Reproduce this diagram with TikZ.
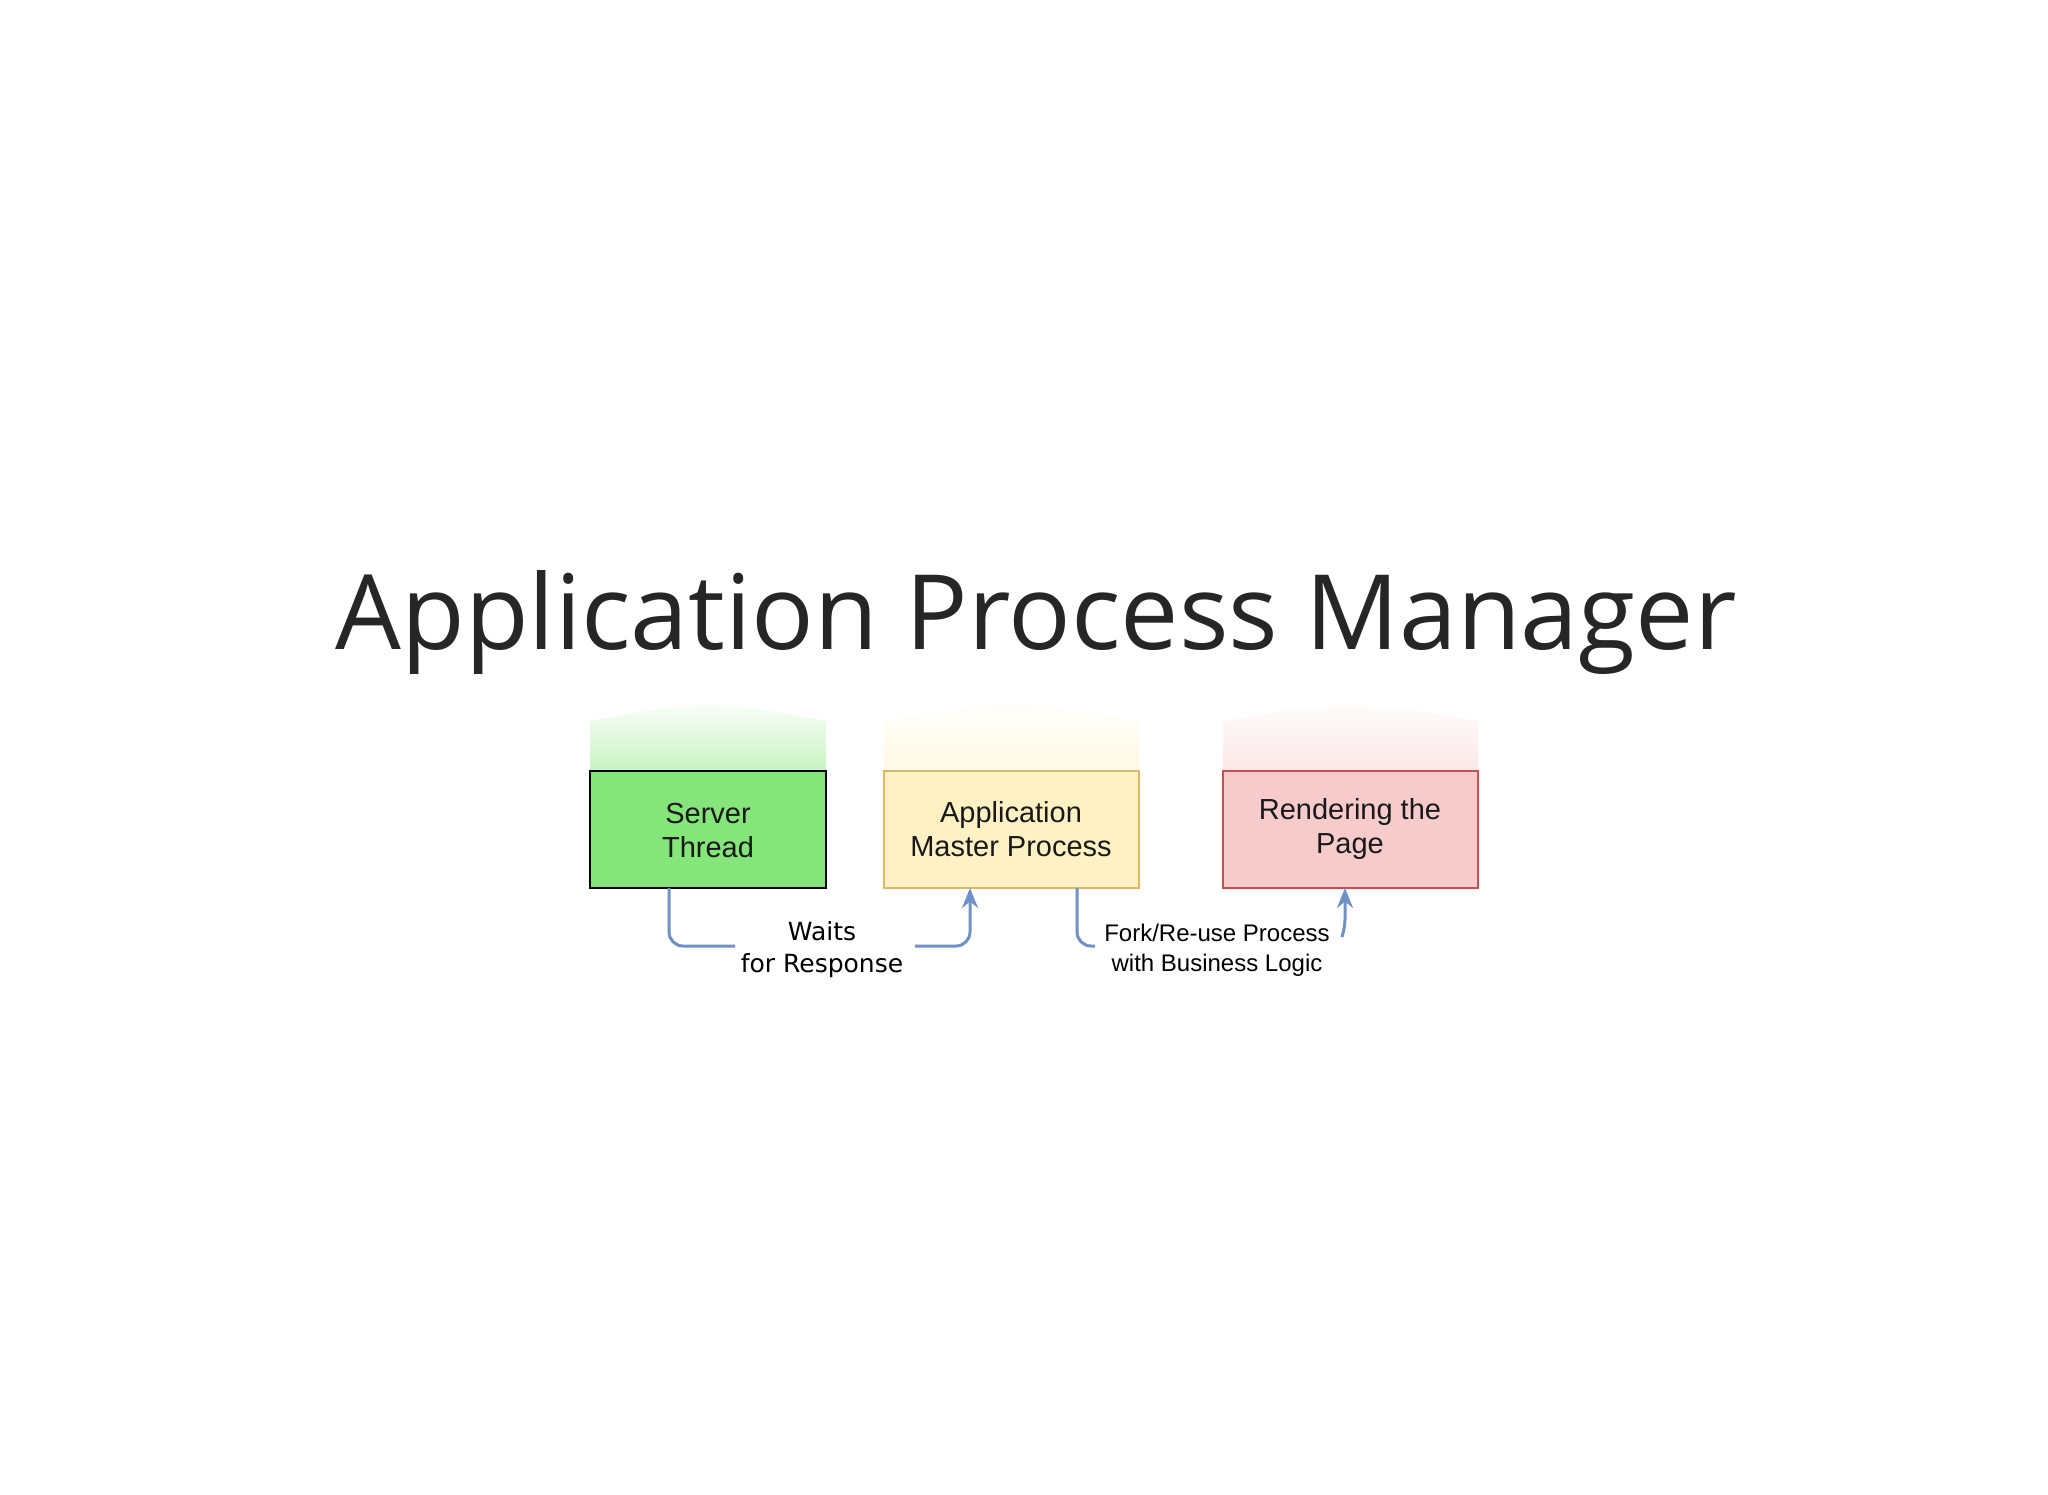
\documentclass[tikz,border=0pt]{standalone}
\usepackage{fontspec}
\setmainfont{Liberation Sans}
\newfontfamily\titlefont{Open Sans}
\newfontfamily\dvs{DejaVu Sans}
\usetikzlibrary{arrows.meta}
\definecolor{grn}{HTML}{86E57A}
\definecolor{yel}{HTML}{FFF1C4}
\definecolor{yelb}{HTML}{DDB965}
\definecolor{rd}{HTML}{F7CBCB}
\definecolor{rdb}{HTML}{C45050}
\definecolor{conn}{HTML}{7090C8}
\tikzset{
 conline/.style={draw=conn,line width=3pt,rounded corners=14pt},
 arr/.style={-{Stealth[length=20pt,width=16pt]}},
 boxtxt/.style={font=\fontsize{29}{34}\selectfont,align=center,text=black!90},
}
\newcommand{\glossbox}[6]{%
 % #1 name, #2 x1, #3 y1(top), #4 x2, #5 y2(bottom), #6 fill, border via style
 \fill[#6] (#2,#3) rectangle (#4,#5);
 \begin{scope}
 \clip (#2,#3) -- (#4,#3) -- (#4,{#3-50}) .. controls ({(#2+#4)/2},{#3-72}) .. (#2,{#3-50}) -- cycle;
 \shade[top color=white,bottom color=#6!45!white] (#2,#3) rectangle (#4,{#3-75});
 \end{scope}
}
\begin{document}
\begin{tikzpicture}[x=1pt,y=-1pt]
\useasboundingbox (0,0) rectangle (2048,1494);
\node[font=\titlefont\fontsize{104}{120}\selectfont,text=black!85] (title) at (1036,622) {Application Process Manager};
\glossbox{s}{590}{771}{826}{888}{grn}
\draw[black,line width=2pt] (590,771) rectangle (826,888);
\node[boxtxt] (srv) at (708,831) {Server\\Thread};
\coordinate (srvb) at (669,888);
\glossbox{a}{884}{771}{1139}{888}{yel}
\draw[yelb,line width=2pt] (884,771) rectangle (1139,888);
\node[boxtxt] (app) at (1011,829) {Application\\Master Process};
\coordinate (appb) at (970,888);
\coordinate (appb2) at (1077,888);
\glossbox{r}{1223}{771}{1478}{888}{rd}
\draw[rdb,line width=2pt] (1223,771) rectangle (1478,888);
\node[boxtxt] (ren) at (1350,829) {Rendering the\\Page};
\coordinate (renb) at (1345,888);
\node[font=\dvs\fontsize{25}{32}\selectfont,align=center] (wait) at (822,950) {Waits\\for Response};
\node[font=\fontsize{24}{30}\selectfont,align=center] (fork) at (1217,950) {Fork/Re-use Process\\with Business Logic};
\draw[conline] (srvb) -- (669,946) -- (735,946);
\draw[conline,arr] (915,946) -- (970,946) -- (appb);
\draw[conline] (appb2) -- (1077,946) -- (1095,946);
\draw[conline,arr,rounded corners=6pt] (1342,937) -- (1345,925) -- (renb);
\end{tikzpicture}
\end{document}
